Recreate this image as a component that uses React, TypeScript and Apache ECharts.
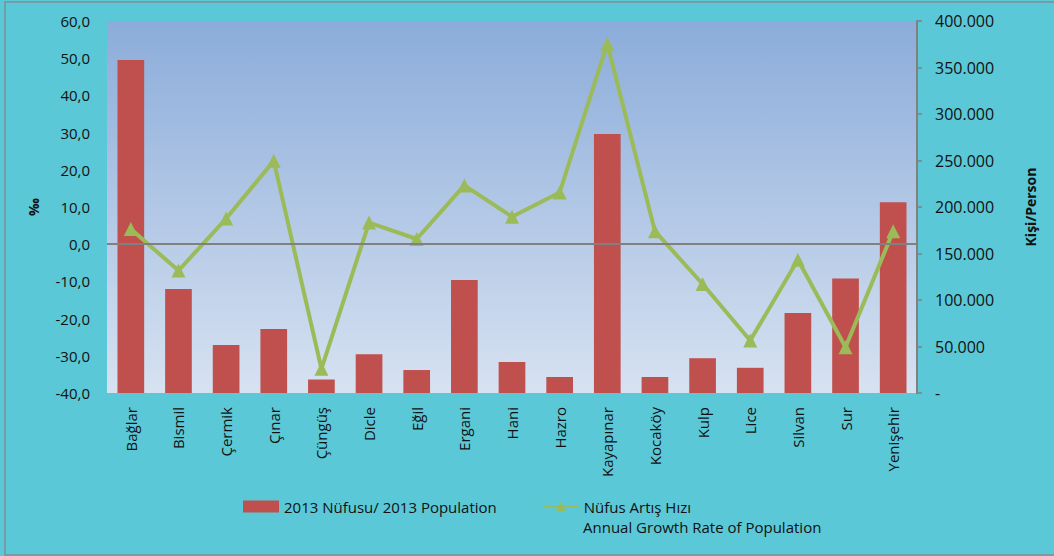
import React, { useEffect, useRef } from "react";
import * as echarts from "echarts";

const districts = ["Bağlar", "Bismil", "Çermik", "Çınar", "Çüngüş", "Dicle", "Eğil", "Ergani", "Hani", "Hazro", "Kayapınar", "Kocaköy", "Kulp", "Lice", "Silvan", "Sur", "Yenişehir"];
const population2013 = [358000, 111800, 51600, 68800, 14500, 41600, 24700, 121500, 33300, 17200, 278500, 17200, 37400, 27100, 86000, 123000, 205000];
const growthRate = [4.1, -7.1, 6.9, 22.4, -33.5, 5.8, 1.4, 15.8, 7.4, 13.9, 53.9, 3.5, -10.7, -25.9, -4.2, -27.7, 3.5];

const barName = "2013 Nüfusu/ 2013 Population";
const lineName = "Nüfus Artış Hızı";
const lineName2 = "Annual Growth Rate of Population";

const FONT = "'Open Sans', sans-serif";
const TEXT = "#111111";

export default function App() {
  const ref = useRef<HTMLDivElement>(null);
  useEffect(() => {
    document.body.style.margin = "0";
    const chart = echarts.init(ref.current!, null, { renderer: "svg" });
    chart.setOption({
      animation: false,
      backgroundColor: "#5BC8D7",
      textStyle: { fontFamily: FONT, color: TEXT },
      graphic: [
        {
          type: "rect",
          shape: { x: 5, y: 2, width: 1060, height: 553 },
          style: { fill: "none", stroke: "#7E8E96", lineWidth: 1.5 },
          silent: true,
          z: 100,
        },
        {
          type: "text",
          left: 583,
          top: 519,
          style: { text: lineName2, fontFamily: FONT, fontSize: 15, fill: TEXT },
        },
      ],
      legend: {
        left: 243,
        top: 499,
        padding: 0,
        itemWidth: 36,
        itemHeight: 12,
        itemGap: 45,
        textStyle: { fontFamily: FONT, fontSize: 15, color: TEXT },
        data: [
          { name: barName, icon: "rect" },
          { name: lineName },
        ],
      },
      grid: {
        left: 107,
        top: 21,
        right: 137,
        bottom: 163,
        show: true,
        borderWidth: 0,
        backgroundColor: new echarts.graphic.LinearGradient(0, 0, 0, 1, [
          { offset: 0, color: "#8BACDA" },
          { offset: 1, color: "#D7E2F1" },
        ]),
      },
      xAxis: {
        type: "category",
        data: districts,
        axisLine: { show: false, onZero: false },
        axisTick: { show: false },
        axisLabel: { rotate: 90, interval: 0, margin: 14, fontSize: 15, color: TEXT, fontFamily: FONT },
      },
      yAxis: [
        {
          type: "value",
          min: -40,
          max: 60,
          interval: 10,
          position: "left",
          name: "‰",
          nameLocation: "middle",
          nameGap: 67,
          nameRotate: 90,
          nameTextStyle: { fontWeight: "bold", fontSize: 14, color: TEXT, fontFamily: FONT },
          axisLine: { show: false },
          axisTick: { show: false },
          splitLine: { show: false },
          axisLabel: {
            margin: 17,
            fontSize: 15,
            color: TEXT,
            fontFamily: FONT,
            formatter: (v: number) => v.toFixed(1).replace(".", ","),
          },
        },
        {
          type: "value",
          min: 0,
          max: 400000,
          interval: 50000,
          position: "right",
          name: "Kişi/Person",
          nameLocation: "middle",
          nameGap: 106,
          nameRotate: 90,
          nameTextStyle: { fontWeight: "bold", fontSize: 14, color: TEXT, fontFamily: FONT },
          axisLine: { show: true, lineStyle: { color: "#808080", width: 2 } },
          axisTick: { show: true, length: 5, lineStyle: { color: "#808080", width: 1.5 } },
          splitLine: { show: false },
          axisLabel: {
            margin: 18,
            fontSize: 16,
            color: TEXT,
            fontFamily: FONT,
            formatter: (v: number) => (v === 0 ? "-" : String(v).replace(/\B(?=(\d{3})+(?!\d))/g, ".")),
          },
        },
      ],
      series: [
        {
          name: barName,
          type: "bar",
          yAxisIndex: 1,
          data: population2013,
          barWidth: "56%",
          itemStyle: { color: "#C0504D" },
        },
        {
          name: lineName,
          type: "line",
          yAxisIndex: 0,
          data: growthRate,
          symbol: "triangle",
          symbolSize: 14,
          lineStyle: { color: "#9BBB59", width: 4 },
          itemStyle: { color: "#9BBB59" },
          markLine: {
            silent: true,
            symbol: "none",
            label: { show: false },
            lineStyle: { color: "#808080", width: 2, type: "solid" },
            data: [{ yAxis: 0 }],
          },
        },
      ],
    });
    return () => chart.dispose();
  }, []);
  return <div ref={ref} style={{ width: 1054, height: 556 }} />;
}
